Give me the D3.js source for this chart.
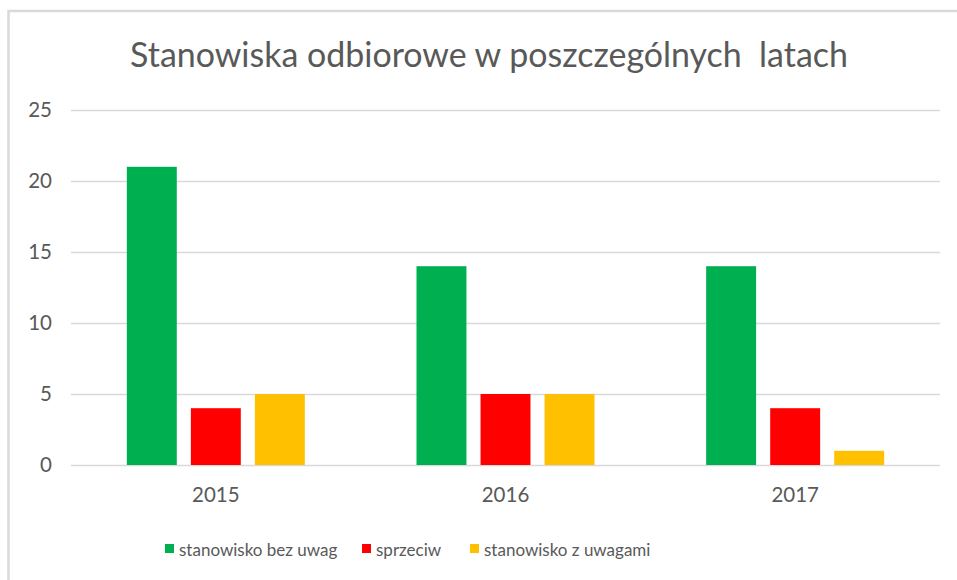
<!DOCTYPE html>
<html>
<head>
<meta charset="utf-8">
<script src="https://cdn.jsdelivr.net/npm/d3@7"></script>
<style>
  body { margin: 0; background: #fff; }
  svg text { font-family: Lato, "Open Sans", sans-serif; fill: #595959; }
</style>
</head>
<body>
<div id="chart"></div>
<script>
let w = 957;
let h = 580;

// data
const years = ['2015', '2016', '2017'];
const seriesNames = ['stanowisko bez uwag', 'sprzeciw', 'stanowisko z uwagami'];
const bezUwag = [21, 14, 14];
const sprzeciw = [4, 5, 4];
const zUwagami = [5, 5, 1];
const yTicks = [0, 5, 10, 15, 20, 25];
const colors = ['#00b050', '#ff0000', '#ffc000'];

const values = [bezUwag, sprzeciw, zUwagami];

let svg = d3.select('#chart')
  .append('svg')
  .attr('width', w)
  .attr('height', h);

// outer frame (only top and left visible)
svg.append('rect')
  .attr('x', 8.5)
  .attr('y', 11)
  .attr('width', 1000)
  .attr('height', 1000)
  .attr('fill', 'none')
  .attr('stroke', '#d9d9d9')
  .attr('stroke-width', 2.5);

// title, squeezed to the reference width
let title = svg.append('text')
  .attr('x', 489)
  .attr('y', 67)
  .attr('text-anchor', 'middle')
  .attr('font-size', 28)
  .style('fill', '#595959')
  .style('white-space', 'pre')
  .text('Stanowiska odbiorowe w poszczególnych  latach');
let tw = title.node().getComputedTextLength();
title.attr('font-size', 28 * 718 / tw);

let x0 = d3.scaleBand()
  .domain(years)
  .range([71, 940]);

let x1 = d3.scaleBand()
  .domain(d3.range(seriesNames.length))
  .range([0, 178])
  .paddingInner(0.22);

let yScale = d3.scaleLinear()
  .domain([0, 25])
  .range([465, 110]);

// gridlines
svg.append('g')
  .selectAll('line')
  .data(yTicks)
  .enter()
  .append('line')
  .attr('x1', 71)
  .attr('x2', 940)
  .attr('y1', d => Math.round(yScale(d)) + 0.5)
  .attr('y2', d => Math.round(yScale(d)) + 0.5)
  .attr('stroke', '#d9d9d9')
  .attr('stroke-width', 1.3);

// y axis labels
const yAxis = d3.axisLeft(yScale).tickValues(yTicks).tickSize(0).tickPadding(0);
let gy = svg.append('g')
  .attr('transform', 'translate(52,0)')
  .call(yAxis);
gy.select('.domain').remove();
gy.selectAll('text')
  .attr('font-size', 20.5)
  .style('font-family', 'Lato, sans-serif')
  .style('fill', '#595959');

// x axis labels
const xAxis = d3.axisBottom(x0).tickSize(0).tickPadding(0);
let gx = svg.append('g')
  .attr('transform', 'translate(0,487)')
  .call(xAxis);
gx.select('.domain').remove();
gx.selectAll('text')
  .attr('font-size', 20.5)
  .style('font-family', 'Lato, sans-serif')
  .style('fill', '#595959');

// bars
let groups = svg.append('g')
  .selectAll('g')
  .data(years)
  .enter()
  .append('g')
  .attr('transform', d => 'translate(' + (x0(d) + x0.bandwidth() / 2 - 89) + ',0)');

groups.selectAll('rect')
  .data((d, i) => values.map((s, k) => ({ k: k, v: s[i] })))
  .enter()
  .append('rect')
  .attr('x', d => x1(d.k))
  .attr('y', d => yScale(d.v))
  .attr('width', x1.bandwidth())
  .attr('height', d => yScale(0) - yScale(d.v))
  .attr('fill', d => colors[d.k]);

// legend
const legendX = [165, 362, 470];
let legend = svg.append('g')
  .selectAll('g')
  .data(seriesNames)
  .enter()
  .append('g')
  .attr('transform', (d, i) => 'translate(' + legendX[i] + ',544)');

legend.append('rect')
  .attr('width', 9)
  .attr('height', 9)
  .attr('fill', (d, i) => colors[i]);

legend.append('text')
  .attr('x', 14)
  .attr('y', 12)
  .attr('font-size', 17)
  .text(d => d);
</script>
</body>
</html>
